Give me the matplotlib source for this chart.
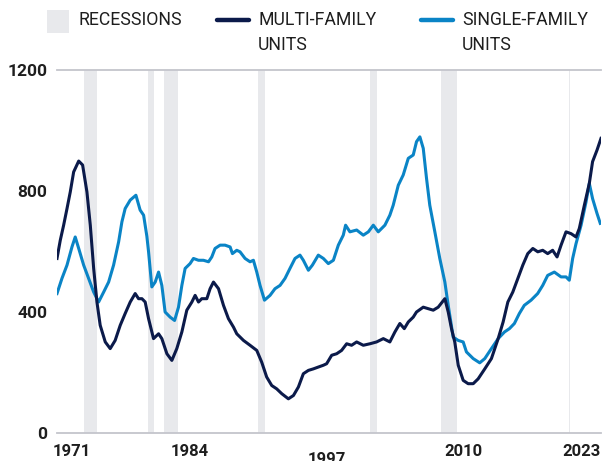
import matplotlib
matplotlib.use("Agg")
import matplotlib.pyplot as plt
from matplotlib.lines import Line2D
from matplotlib.patches import Rectangle
import matplotlib.transforms as mtransforms

plt.rcParams['font.family'] = ['Roboto', 'DejaVu Sans']

# ---- data (thousands of units under construction) ----
multi_years = [1971.39, 1971.70, 1972.02, 1972.34, 1972.65, 1972.97, 1973.45, 1973.82, 1974.23, 1974.55,
               1974.87, 1975.18, 1975.49, 1975.97, 1976.44, 1976.91, 1977.39, 1977.86, 1978.34, 1978.81,
               1979.13, 1979.45, 1979.76, 1980.08, 1980.55, 1981.03, 1981.34, 1981.82, 1982.29, 1982.76,
               1983.24, 1983.71, 1984.19, 1984.50, 1984.82, 1985.13, 1985.61, 1985.92, 1986.24, 1986.72,
               1987.19, 1987.66, 1988.14, 1988.45, 1989.09, 1989.71, 1990.35, 1990.82, 1991.29, 1991.77,
               1992.24, 1992.72, 1993.35, 1993.83, 1994.30, 1994.77, 1995.25, 1995.72, 1996.19, 1996.67,
               1996.98, 1997.46, 1997.93, 1998.40, 1998.88, 1999.35, 1999.83, 2000.46, 2001.09, 2001.72,
               2002.36, 2002.98, 2003.46, 2003.93, 2004.35, 2004.73, 2005.20, 2005.51, 2006.15, 2006.62,
               2007.10, 2007.57, 2008.20, 2008.52, 2008.83, 2009.14, 2009.47, 2009.94, 2010.41, 2010.89,
               2011.36, 2011.99, 2012.62, 2013.26, 2013.73, 2014.18, 2014.65, 2015.13, 2015.60, 2016.07,
               2016.55, 2017.02, 2017.49, 2017.96, 2018.43, 2018.85, 2019.23, 2019.70, 2020.18, 2020.65,
               2020.96, 2021.44, 2021.91, 2022.22, 2022.64, 2023.02]
multi_units = [577, 637, 687, 742, 797, 863, 899, 886, 797, 687,
               544, 433, 356, 301, 279, 306, 356, 395, 433, 461,
               444, 444, 433, 378, 312, 328, 312, 262, 240, 279,
               334, 406, 433, 455, 433, 444, 444, 477, 499, 477,
               422, 378, 350, 328, 306, 290, 273, 234, 185, 157,
               146, 130, 113, 124, 152, 196, 207, 212, 218, 224,
               229, 257, 262, 273, 295, 290, 301, 290, 295, 301,
               312, 301, 334, 362, 345, 367, 383, 400, 416, 411,
               406, 416, 444, 400, 345, 301, 224, 174, 163, 163,
               179, 212, 246, 312, 367, 433, 466, 511, 555, 593,
               610, 599, 604, 593, 604, 582, 621, 665, 659, 648,
               676, 753, 825, 897, 935, 974]

single_years = [1971.39, 1971.86, 1972.34, 1972.81, 1973.12, 1973.45, 1973.92, 1974.39, 1974.87, 1975.34,
                1975.82, 1976.29, 1976.76, 1977.24, 1977.55, 1977.86, 1978.34, 1978.88, 1979.28, 1979.61,
                1979.92, 1980.08, 1980.39, 1980.71, 1981.03, 1981.34, 1981.65, 1982.13, 1982.55, 1982.92,
                1983.24, 1983.55, 1984.02, 1984.34, 1984.82, 1985.29, 1985.77, 1986.08, 1986.39, 1986.87,
                1987.34, 1987.82, 1988.04, 1988.45, 1988.76, 1989.24, 1989.71, 1990.03, 1990.35, 1990.66,
                1991.08, 1991.61, 1992.08, 1992.56, 1993.03, 1993.50, 1993.98, 1994.45, 1994.77, 1995.25,
                1995.63, 1996.19, 1996.67, 1997.14, 1997.62, 1998.09, 1998.56, 1998.78, 1999.19, 1999.83,
                2000.46, 2000.94, 2001.41, 2001.88, 2002.51, 2002.98, 2003.30, 2003.78, 2004.25, 2004.73,
                2005.20, 2005.51, 2005.83, 2006.15, 2006.46, 2006.77, 2007.25, 2007.72, 2008.20, 2008.52,
                2008.99, 2009.47, 2009.94, 2010.25, 2010.89, 2011.51, 2011.99, 2012.62, 2013.26, 2013.86,
                2014.33, 2014.80, 2015.27, 2015.74, 2016.38, 2017.01, 2017.49, 2017.96, 2018.59, 2019.23,
                2019.70, 2020.01, 2020.33, 2020.65, 2021.13, 2021.60, 2021.91, 2022.22, 2022.64, 2022.95]
single_units = [461, 511, 555, 615, 648, 610, 555, 511, 466, 433,
                466, 499, 555, 632, 698, 742, 770, 786, 737, 720,
                650, 599, 483, 499, 532, 488, 400, 383, 372, 416,
                488, 544, 560, 577, 571, 571, 566, 582, 610, 621,
                621, 615, 593, 604, 599, 577, 566, 571, 532, 488,
                439, 455, 477, 488, 511, 544, 577, 588, 571, 538,
                555, 588, 577, 560, 571, 621, 654, 687, 665, 671,
                654, 665, 687, 665, 687, 720, 753, 819, 853, 908,
                919, 963, 979, 941, 842, 753, 665, 577, 499, 422,
                317, 306, 301, 268, 246, 232, 246, 279, 312, 334,
                345, 362, 395, 422, 439, 461, 488, 521, 532, 516,
                516, 505, 577, 626, 687, 764, 825, 775, 726, 693]

recession_start = [1973.95, 1980.05, 1981.50, 1990.51, 2001.09, 2007.82, 2019.95]
recession_end = [1975.18, 1980.55, 1982.86, 1991.13, 2001.72, 2009.31, 2020.12]

y_ticks = [0, 400, 800, 1200]
x_tick_years = [1971, 1984, 1997, 2010, 2023]

legend_labels = ["RECESSIONS", "MULTI-FAMILY\nUNITS", "SINGLE-FAMILY\nUNITS"]

# ---- styling ----
NAVY = "#0b1a4a"
BLUE = "#0a84c6"
GRAY = "#e8e9ec"
RULE = "#c4c5cc"
TXT = "#1e1e1e"

W, H = 615, 461
fig = plt.figure(figsize=(W / 100, H / 100), dpi=100)
left, right, top, bottom = 57, 601, 70, 433
ax = fig.add_axes([left / W, 1 - bottom / H, (right - left) / W, (bottom - top) / H])

for s, e in zip(recession_start, recession_end):
    ax.axvspan(s, e, color=GRAY, lw=0, zorder=0)

ax.plot(multi_years, multi_units, color=NAVY, lw=2.2, zorder=3, solid_joinstyle='round')
ax.plot(single_years, single_units, color=BLUE, lw=2.2, zorder=2, solid_joinstyle='round')

ax.set_xlim(multi_years[0], multi_years[-1])
ax.set_ylim(0, 1200)

for side in ("left", "right"):
    ax.spines[side].set_visible(False)
for side in ("top", "bottom"):
    ax.spines[side].set_color(RULE)
    ax.spines[side].set_linewidth(1.3)
ax.spines["top"].set_zorder(1)

ax.set_yticks(y_ticks)
ax.set_yticklabels([str(v) for v in y_ticks], fontsize=12.5, color=TXT, fontweight='semibold')
ax.tick_params(axis='y', length=0, pad=7)
ax.set_xticks([])

trans = mtransforms.blended_transform_factory(ax.transData, ax.transAxes)
for i, yr in enumerate(x_tick_years):
    if i == 0:
        ha = 'left'
    elif i == len(x_tick_years) - 1:
        ha = 'right'
    else:
        ha = 'center'
    yoff = -0.072 if yr == 1997 else -0.052
    ax.text(yr, yoff, str(yr), transform=trans, ha=ha, va='center',
            fontsize=12, color=TXT, fontweight='semibold')

# ---- legend (drawn in figure pixels) ----
def fx(px):
    return px / W

def fy(py):
    return 1 - py / H

LFS = 12.7
fig.patches.append(Rectangle((fx(47), fy(33)), 22 / W, 23 / H, transform=fig.transFigure,
                             facecolor=GRAY, edgecolor='none'))
fig.text(fx(79), fy(20), legend_labels[0], ha='left', va='center', fontsize=LFS, color=TXT)

fig.lines.append(Line2D([fx(217), fx(249)], [fy(20), fy(20)], transform=fig.transFigure,
                        color=NAVY, lw=3.2, solid_capstyle='round'))
fig.text(fx(258), fy(20), legend_labels[1].split("\n")[0], ha='left', va='center', fontsize=LFS, color=TXT)
fig.text(fx(258), fy(45), legend_labels[1].split("\n")[1], ha='left', va='center', fontsize=LFS, color=TXT)

fig.lines.append(Line2D([fx(421), fx(453)], [fy(20), fy(20)], transform=fig.transFigure,
                        color=BLUE, lw=3.2, solid_capstyle='round'))
fig.text(fx(462), fy(20), legend_labels[2].split("\n")[0], ha='left', va='center', fontsize=LFS, color=TXT)
fig.text(fx(462), fy(45), legend_labels[2].split("\n")[1], ha='left', va='center', fontsize=LFS, color=TXT)

fig.savefig("out.png", dpi=100, facecolor="white")
